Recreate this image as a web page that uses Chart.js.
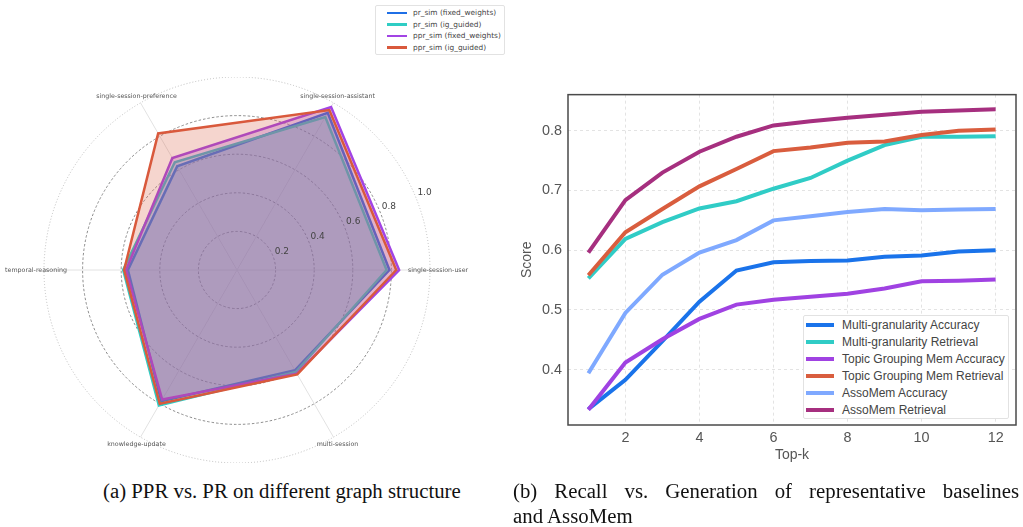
<!DOCTYPE html>
<html>
<head>
<meta charset="utf-8">
<script src="https://cdn.jsdelivr.net/npm/chart.js@4.4.0/dist/chart.umd.min.js"></script>
<style>
  body { margin: 0; width: 1023px; height: 527px; position: relative; background: #fff; overflow: hidden; }
  .wrap { position: absolute; }
  .legend { position: absolute; background: #fff; border: 1px solid #e2e2e2; border-radius: 2px; box-sizing: border-box; }
  .legend .item { display: flex; align-items: center; white-space: nowrap; }
  .legend .sw { display: inline-block; flex: none; }
  #radarLegend { left: 375px; top: 5px; width: 130px; height: 50px; padding: 1px 0 0 11px; font: 7.4px "DejaVu Sans"; color: #444; }
  #radarLegend .item { height: 11.6px; }
  #radarLegend .sw { width: 20px; height: 2.5px; margin-right: 6px; }
  #lineLegend { left: 803px; top: 315px; width: 206px; height: 104px; padding: 0.5px 0 0 2px; font: 12px "Liberation Sans"; color: #444; }
  #lineLegend .item { height: 17px; }
  #lineLegend .sw { width: 28px; height: 3.5px; margin-right: 8px; }
  .cap { position: absolute; font: 20.8px "Liberation Serif"; color: #111; line-height: 25px; white-space: nowrap; }
</style>
</head>
<body>
<div class="wrap" style="left:0;top:77px;width:474px;height:386px"><canvas id="radar"></canvas></div>
<div id="radarLegend" class="legend"></div>
<div class="wrap" style="left:510px;top:80px;width:513px;height:400px"><canvas id="line"></canvas></div>
<div id="lineLegend" class="legend"></div>
<div class="cap" style="left:103px;top:478px">(a) PPR vs. PR on different graph structure</div>
<div class="cap" style="left:513px;top:478px;width:506px;text-align:justify;text-align-last:justify">(b) Recall vs. Generation of representative baselines</div>
<div class="cap" style="left:513px;top:503px">and AssoMem</div>
<script>
// radar: categories listed clockwise starting at the right
const categories = ['single-session-user', 'multi-session', 'knowledge-update', 'temporal-reasoning', 'single-session-preference', 'single-session-assistant'];
const radarNames = ['pr_sim (fixed_weights)', 'pr_sim (ig_guided)', 'ppr_sim (fixed_weights)', 'ppr_sim (ig_guided)'];
const prFixed  = [0.79, 0.600, 0.785, 0.565, 0.620, 0.940];
const prIg     = [0.775, 0.610, 0.810, 0.590, 0.645, 0.915];
const pprFixed = [0.84, 0.620, 0.775, 0.575, 0.670, 0.975];
const pprIg    = [0.825, 0.625, 0.800, 0.585, 0.817, 0.957];
const rTicks = [0.2, 0.4, 0.6, 0.8, 1.0];

// line chart
const topK = [1, 2, 3, 4, 5, 6, 7, 8, 9, 10, 11, 12];
const lineNames = ['Multi-granularity Accuracy', 'Multi-granularity Retrieval', 'Topic Grouping Mem Accuracy', 'Topic Grouping Mem Retrieval', 'AssoMem Accuracy', 'AssoMem Retrieval'];
const mgAcc = [0.334, 0.383, 0.448, 0.514, 0.566, 0.580, 0.582, 0.583, 0.589, 0.591, 0.598, 0.600];
const mgRet = [0.553, 0.619, 0.647, 0.670, 0.682, 0.703, 0.721, 0.750, 0.776, 0.790, 0.790, 0.791];
const tgAcc = [0.333, 0.412, 0.451, 0.485, 0.509, 0.517, 0.522, 0.527, 0.536, 0.548, 0.549, 0.551];
const tgRet = [0.558, 0.630, 0.669, 0.707, 0.736, 0.766, 0.772, 0.780, 0.782, 0.793, 0.800, 0.802];
const amAcc = [0.394, 0.495, 0.559, 0.596, 0.617, 0.650, 0.657, 0.664, 0.669, 0.667, 0.668, 0.669];
const amRet = [0.596, 0.684, 0.730, 0.765, 0.790, 0.809, 0.816, 0.822, 0.827, 0.832, 0.834, 0.836];
const xTicks = [2, 4, 6, 8, 10, 12];
const yTicks = [0.4, 0.5, 0.6, 0.7, 0.8];

const radarColors = ['#1f6fe6', '#2fcdc4', '#a244e4', '#d9593c'];
const lineColors = ['#1a73ea', '#30ccc6', '#a042e2', '#d95d3e', '#7fa9ff', '#a62f7f'];

function alpha(hex, a) {
  const n = parseInt(hex.slice(1), 16);
  return `rgba(${n >> 16}, ${(n >> 8) & 255}, ${n & 255}, ${a})`;
}

function buildLegend(id, names, colors) {
  const el = document.getElementById(id);
  names.forEach((t, i) => {
    const row = document.createElement('div');
    row.className = 'item';
    row.innerHTML = '<span class="sw" style="background:' + colors[i] + '"></span><span>' + t + '</span>';
    el.appendChild(row);
  });
}
buildLegend('radarLegend', radarNames, radarColors);
buildLegend('lineLegend', lineNames, lineColors);

// matplotlib-style labels around the radar
const radarText = {
  id: 'radarText',
  afterDatasetsDraw(chart) {
    const r = chart.scales.r;
    const ctx = chart.ctx;
    ctx.save();
    ctx.textAlign = 'center';
    ctx.textBaseline = 'middle';
    ctx.font = '6.3px "DejaVu Sans"';
    ctx.fillStyle = '#555';
    chart.data.labels.forEach((lab, i) => {
      const p = r.getPointPosition(i, r.drawingArea + 8);
      ctx.fillText(lab, p.x, p.y);
    });
    ctx.font = '9px "DejaVu Sans"';
    ctx.fillStyle = '#444';
    const ang = -22.5 * Math.PI / 180;
    rTicks.forEach(v => {
      const d = r.getDistanceFromCenterForValue(v) + 10;
      ctx.fillText(v.toFixed(1), r.xCenter + d * Math.cos(ang), r.yCenter + d * Math.sin(ang));
    });
    ctx.restore();
  }
};

const radarSeries = [prFixed, prIg, pprFixed, pprIg];
new Chart(document.getElementById('radar'), {
  type: 'radar',
  data: {
    labels: categories,
    datasets: radarSeries.map((vals, i) => ({
      label: radarNames[i],
      data: vals,
      borderColor: radarColors[i],
      backgroundColor: alpha(radarColors[i], 0.25),
      borderWidth: 2.5,
      fill: true,
      pointRadius: 0,
      order: radarSeries.length - i
    }))
  },
  options: {
    responsive: true,
    maintainAspectRatio: false,
    animation: false,
    plugins: { legend: { display: false }, tooltip: { enabled: false } },
    scales: {
      r: {
        min: 0,
        max: 1,
        startAngle: 90,
        ticks: { display: false, stepSize: 0.2 },
        pointLabels: { display: false },
        angleLines: { color: '#e2e2e2', lineWidth: 1 },
        grid: {
          circular: true,
          color: c => c.index === 5 ? '#b0b0b0' : '#707070',
          lineWidth: 0.8
        },
        border: { dash: c => c.index === 5 ? [1, 2] : [2.5, 2] }
      }
    }
  },
  plugins: [radarText]
});

// frame on all four sides, like the matplotlib axes
const frame = {
  id: 'frame',
  afterDraw(chart) {
    const { ctx, chartArea: a } = chart;
    ctx.save();
    ctx.strokeStyle = '#4a4a4a';
    ctx.lineWidth = 1.5;
    ctx.strokeRect(a.left, a.top, a.width, a.height);
    ctx.restore();
  }
};

const lineSeries = [mgAcc, mgRet, tgAcc, tgRet, amAcc, amRet];
const tickFont = { family: 'Liberation Sans', size: 14.4 };
new Chart(document.getElementById('line'), {
  type: 'line',
  data: {
    datasets: lineSeries.map((vals, i) => ({
      label: lineNames[i],
      data: topK.map((k, j) => ({ x: k, y: vals[j] })),
      borderColor: lineColors[i],
      borderWidth: 4,
      pointRadius: 0,
      tension: 0,
      order: lineSeries.length - i
    }))
  },
  options: {
    responsive: true,
    maintainAspectRatio: false,
    animation: false,
    layout: { padding: { top: 11, right: 7, left: 0, bottom: 0 } },
    plugins: { legend: { display: false }, tooltip: { enabled: false } },
    scales: {
      x: {
        type: 'linear',
        min: 0.45,
        max: 12.55,
        afterBuildTicks: axis => { axis.ticks = xTicks.map(v => ({ value: v })); },
        afterFit: s => { s.height = 55; },
        ticks: { font: tickFont, color: '#555', padding: 4, maxRotation: 0 },
        grid: { color: '#dcdcdc', lineWidth: 0.8, drawTicks: false },
        border: { display: false, dash: [3, 3] },
        title: { display: true, text: 'Top-k', font: { family: 'Liberation Sans', size: 14 }, color: '#555', padding: { top: 0, bottom: 16 } }
      },
      y: {
        min: 0.3074,
        max: 0.8605,
        afterBuildTicks: axis => { axis.ticks = yTicks.map(v => ({ value: v })); },
        afterFit: s => { s.width = 58; },
        ticks: { font: tickFont, color: '#555', padding: 6, callback: v => v.toFixed(1) },
        grid: { color: '#dcdcdc', lineWidth: 0.8, drawTicks: false },
        border: { display: false, dash: [3, 3] },
        title: { display: true, text: 'Score', font: { family: 'Liberation Sans', size: 14 }, color: '#555', padding: { top: 9, bottom: 0 } }
      }
    }
  },
  plugins: [frame]
});
</script>
</body>
</html>
